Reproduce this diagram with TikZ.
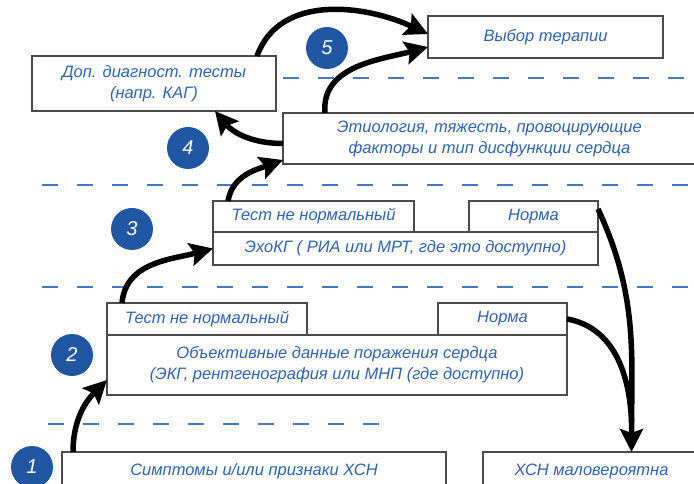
\documentclass[tikz,border=0pt]{standalone}
\usepackage{fontspec}
\setmainfont{Liberation Sans}
\usepackage{tikz}
\usetikzlibrary{arrows.meta}
\definecolor{txtblue}{RGB}{48,98,178}
\definecolor{dotblue}{RGB}{32,86,162}
\definecolor{lineblue}{RGB}{72,120,192}
\definecolor{boxgray}{RGB}{75,75,75}

\begin{document}
\begin{tikzpicture}[x=1pt,y=1pt,
  box/.style={draw=boxgray,line width=1.2pt,fill=white,text=txtblue,inner sep=0pt,outer sep=0pt,align=center,font=\fontsize{16.5}{21}\selectfont\itshape},
  num/.style={circle,fill=dotblue,text=white,minimum size=42pt,inner sep=0pt,font=\fontsize{20}{20}\selectfont\itshape},
  sep/.style={draw=lineblue,line width=2.6pt,dash pattern=on 16pt off 19pt},
  flow/.style={line width=5.5pt,arrows={-Stealth[length=23pt,width=23pt,inset=4pt]}}]
   \useasboundingbox (0,0) rectangle (694,484);

   % separators
   \draw[sep] (283,406) -- (694,406);
   \draw[sep] (42,299) -- (694,299);
   \draw[sep] (42,197) -- (694,197);
   \draw[sep] (48,60) -- (392,60);

   \draw (545.5,447) node[box,minimum width=235pt,minimum height=42pt] (terapia) {Выбор терапии};
   \draw (154,400.5) node[box,minimum width=244pt,minimum height=55pt] (dop) {Доп. диагност. тесты\\(напр. КАГ)};
   \draw (489.5,345.5) node[box,minimum width=413pt,minimum height=51pt] (etio) {Этиология, тяжесть, провоцирующие\\факторы и тип дисфункции сердца};

    \draw (313.5,267.5) node[box,minimum width=201pt,minimum height=31pt] (test3) {Тест не нормальный};
    \draw (533.5,267.5) node[box,minimum width=129pt,minimum height=31pt] (norma3) {Норма};
    \draw (405.5,235.5) node[box,minimum width=385pt,minimum height=33pt] (echo) {ЭхоКГ ( РИА или МРТ, где это доступно)};

     \draw (207,165) node[box,minimum width=200pt,minimum height=32pt] (test2) {Тест не нормальный};
     \draw (502.5,165) node[box,minimum width=129pt,minimum height=32pt] (norma2) {Норма};
     \draw (337,119) node[box,minimum width=460pt,minimum height=60pt] (obj) {Объективные данные поражения сердца\\(ЭКГ, рентгенография или МНП (где доступно)};

     \draw (254,13) node[box,minimum width=384pt,minimum height=38pt] (sympt) {Симптомы и/или признаки ХСН};
     \draw (591.5,13) node[box,minimum width=217pt,minimum height=38pt] (unlikely) {ХСН маловероятна};

   \draw (32,17) node[num] (n1) {1};
   \draw (72,129) node[num] (n2) {2};
   \draw (132,255) node[num] (n3) {3};
   \draw (188,336) node[num] (n4) {4};
   \draw (327,436) node[num] (n5) {5};

      \path[flow] ([xshift=11pt]sympt.north west) edge[out=90,in=225] ([yshift=15pt]obj.south west);
      \path[flow] ([xshift=15pt]test2.north west) edge[out=85,in=195] (echo.west);
      \path[flow] ([xshift=15pt]test3.north west) edge[out=80,in=200] ([yshift=4pt]etio.south west);
      \path[flow] ([yshift=-5pt]etio.west) edge[out=180,in=-50] ([xshift=183pt]dop.south west);
      \path[flow] ([xshift=225pt]dop.north west) edge[out=70,in=155] ([yshift=3pt]terapia.west);
      \path[flow] ([xshift=42pt]etio.north west) edge[out=95,in=195] ([yshift=-10pt]terapia.west);
      \path[flow] ([yshift=-8pt]norma3.north east) edge[out=-65,in=90] ([xshift=40pt]unlikely.north);
      \path[flow,-] (norma2.east) edge[out=-10,in=92] ([xshift=40pt,yshift=30pt]unlikely.north);
\end{tikzpicture}
\end{document}
